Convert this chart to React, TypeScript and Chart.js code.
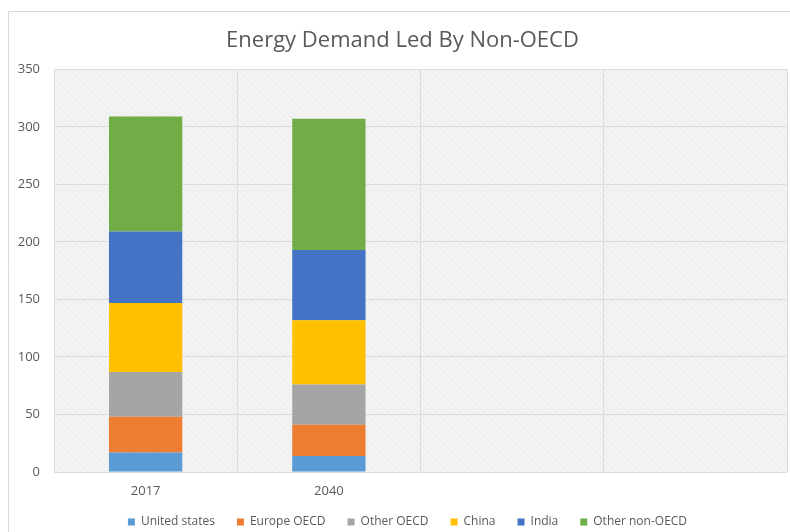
import React, { useEffect, useRef } from "react";
import { Chart, registerables } from "chart.js";

Chart.register(...registerables);

const categories = ["2017", "2040", "", ""];
const seriesNames = ["United states", "Europe OECD", "Other OECD", "China", "India", "Other non-OECD"];
const unitedStates = [17, 14, null, null];
const europeOECD = [31, 27, null, null];
const otherOECD = [39, 35, null, null];
const china = [60, 56, null, null];
const india = [62, 61, null, null];
const otherNonOECD = [100, 114, null, null];
const seriesColors = ["#5b9bd5", "#ed7d31", "#a5a5a5", "#ffc000", "#4472c4", "#70ad47"];
const yTicks = [0, 50, 100, 150, 200, 250, 300, 350];
const titleText = "Energy Demand Led By Non-OECD";

const FONT = "'Open Sans', sans-serif";
const BOTTOM_PAD = -6;

function makePattern(): CanvasPattern | string {
  const c = document.createElement("canvas");
  c.width = 6;
  c.height = 6;
  const g = c.getContext("2d");
  if (!g) return "#f2f2f2";
  g.fillStyle = "#f3f3f3";
  g.fillRect(0, 0, 6, 6);
  g.fillStyle = "#ebebeb";
  for (let i = 0; i < 6; i++) g.fillRect(i, i, 1, 1);
  const p = g.createPattern(c, "repeat");
  return p || "#f2f2f2";
}

const framePlugin = {
  id: "frame",
  afterLayout(chart: any) {
    if (chart.legend) {
      chart.legend.left += 14;
      chart.legend.right += 14;
    }
    if (chart.titleBlock) {
      chart.titleBlock.left += 9;
      chart.titleBlock.right += 9;
    }
    if (chart.scales && chart.scales.x) {
      chart.scales.x.bottom += 10;
    }
  },
  beforeDraw(chart: any) {
    const { ctx, chartArea } = chart;
    ctx.save();
    ctx.fillStyle = "#ffffff";
    ctx.fillRect(0, 0, chart.width, chart.height);
    ctx.strokeStyle = "#d9d9d9";
    ctx.lineWidth = 1;
    ctx.beginPath();
    ctx.moveTo(8.5, chart.height);
    ctx.lineTo(8.5, 11.5);
    ctx.lineTo(chart.width, 11.5);
    ctx.stroke();
    ctx.fillStyle = makePattern();
    ctx.fillRect(chartArea.left, chartArea.top, chartArea.right - chartArea.left, chartArea.bottom - chartArea.top);
    ctx.restore();
  },
};

export default function App() {
  const ref = useRef<HTMLCanvasElement | null>(null);
  useEffect(() => {
    document.body.style.margin = "0";
    document.body.style.overflow = "hidden";
    const values = [unitedStates, europeOECD, otherOECD, china, india, otherNonOECD];
    const chart = new Chart(ref.current as HTMLCanvasElement, {
      type: "bar",
      data: {
        labels: categories,
        datasets: seriesNames.map((name, i) => ({
          label: name,
          data: values[i],
          backgroundColor: seriesColors[i],
          borderWidth: 0,
          categoryPercentage: 1,
          barPercentage: 0.4,
        })),
      },
      options: {
        animation: false,
        responsive: false,
        layout: { padding: { left: 0, right: 3, top: 0, bottom: BOTTOM_PAD } },
        plugins: {
          title: {
            display: true,
            text: titleText,
            color: "#595959",
            font: { family: FONT, size: 22, weight: "normal" },
            padding: { top: 28, bottom: 15 },
          },
          legend: {
            position: "bottom",
            labels: {
              boxWidth: 7,
              boxHeight: 7,
              padding: 22,
              color: "#595959",
              font: { family: FONT, size: 12 },
            },
          },
          tooltip: { enabled: false },
        },
        scales: {
          x: {
            stacked: true,
            grid: { color: "#dcdcdc", drawTicks: false, offset: true },
            border: { display: false },
            ticks: { color: "#595959", font: { family: FONT, size: 13 }, padding: 11 },
            afterFit: (scale: any) => {
              const lh = scale.chart.legend ? scale.chart.legend.height : 0;
              scale.height = 532 - 472 - lh - BOTTOM_PAD;
            },
          },
          y: {
            stacked: true,
            min: 0,
            max: 350,
            afterBuildTicks: (scale: any) => {
              scale.ticks = yTicks.map((v) => ({ value: v }));
            },
            grid: { color: "#dcdcdc", drawTicks: false },
            border: { display: false },
            ticks: { color: "#595959", font: { family: FONT, size: 13 }, padding: 14 },
            afterFit: (scale: any) => {
              scale.width = 54;
            },
          },
        },
      },
      plugins: [framePlugin],
    });
    return () => chart.destroy();
  }, []);
  return (
    <canvas
      ref={ref}
      width={790}
      height={532}
      style={{ position: "fixed", left: 0, top: 0, width: 790, height: 532 }}
    />
  );
}
